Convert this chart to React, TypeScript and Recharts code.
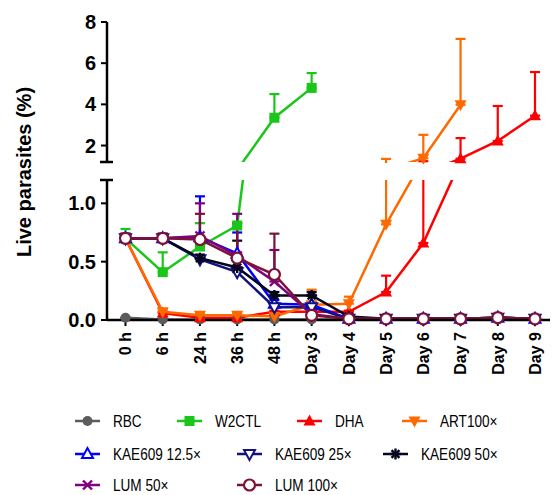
import React from 'react';
import { LineChart, Line, XAxis, YAxis, ErrorBar } from 'recharts';

const categories = ['0 h', '6 h', '24 h', '36 h', '48 h', 'Day 3', 'Day 4', 'Day 5', 'Day 6', 'Day 7', 'Day 8', 'Day 9'];

const rbcValues = [0.02, 0.005, 0.005, 0.005, 0.005, 0.005, 0.005, 0.005, 0.005, 0.005, 0.005, 0.005];
const rbcErrors = [0, 0, 0, 0, 0, 0, 0, 0, 0, 0, 0, 0];

const w2ctlValues = [0.70, 0.41, 0.63, 0.81, 3.35, 4.8, null, null, null, null, null, null];
const w2ctlErrors = [0.08, 0.17, 0.2, 0.02, 1.15, 0.72, null, null, null, null, null, null];

const dhaValues = [0.70, 0.06, 0.02, 0.02, 0.07, 0.07, 0.07, 0.24, 0.66, 1.36, 2.22, 3.45];
const dhaErrors = [0.02, 0.01, 0.01, 0.01, 0.01, 0.02, 0.01, 0.14, 0.58, 1.0, 1.7, 2.12];

const artValues = [0.70, 0.07, 0.04, 0.04, 0.03, 0.13, 0.14, 0.82, 1.38, 3.98, null, null];
const artErrors = [0.02, 0.02, 0.01, 0.02, 0.01, 0.13, 0.06, 0.53, 1.14, 3.2, null, null];

const kae125Values = [0.70, 0.70, 0.71, 0.57, 0.14, 0.13, 0.01, 0.01, 0.01, 0.01, 0.02, 0.01];
const kae125Errors = [0.04, 0.04, 0.35, 0.18, 0.03, 0.02, 0.01, 0.01, 0.01, 0.01, 0.01, 0.01];

const kae25Values = [0.70, 0.70, 0.52, 0.41, 0.11, 0.11, 0.01, 0.01, 0.01, 0.01, 0.02, 0.01];
const kae25Errors = [0.03, 0.03, 0.02, 0.02, 0.02, 0.02, 0.01, 0.01, 0.01, 0.01, 0.01, 0.01];

const kae50Values = [0.70, 0.70, 0.53, 0.45, 0.21, 0.21, 0.03, 0.01, 0.01, 0.01, 0.02, 0.01];
const kae50Errors = [0.03, 0.03, 0.03, 0.23, 0.03, 0.03, 0.01, 0.01, 0.01, 0.01, 0.01, 0.01];

const lum50Values = [0.70, 0.70, 0.72, 0.55, 0.33, 0.05, 0.01, 0.01, 0.01, 0.01, 0.02, 0.01];
const lum50Errors = [0.03, 0.03, 0.28, 0.36, 0.27, 0.01, 0.01, 0.01, 0.01, 0.01, 0.01, 0.01];

const lum100Values = [0.70, 0.70, 0.69, 0.53, 0.39, 0.04, 0.01, 0.01, 0.01, 0.01, 0.02, 0.01];
const lum100Errors = [0.04, 0.04, 0.22, 0.30, 0.35, 0.01, 0.01, 0.01, 0.01, 0.01, 0.01, 0.01];

const upperTicks = [2, 4, 6, 8];
const lowerTicks = [0, 0.5, 1.0];
const upperDomain: [number, number] = [1.2, 8];
const lowerDomain: [number, number] = [0, 1.2];

type Shape = 'circle' | 'square' | 'triUp' | 'triDown' | 'triUpOpen' | 'triDownOpen' | 'star' | 'cross' | 'circleOpen';

interface Series {
  key: string;
  name: string;
  color: string;
  shape: Shape;
  values: (number | null)[];
  errors: (number | null)[];
}

const seriesList: Series[] = [
  { key: 'rbc', name: 'RBC', color: '#5c5c5c', shape: 'circle', values: rbcValues, errors: rbcErrors },
  { key: 'w2ctl', name: 'W2CTL', color: '#19c619', shape: 'square', values: w2ctlValues, errors: w2ctlErrors },
  { key: 'dha', name: 'DHA', color: '#ff0000', shape: 'triUp', values: dhaValues, errors: dhaErrors },
  { key: 'art', name: 'ART100×', color: '#ff6a00', shape: 'triDown', values: artValues, errors: artErrors },
  { key: 'kae125', name: 'KAE609 12.5×', color: '#0000ff', shape: 'triUpOpen', values: kae125Values, errors: kae125Errors },
  { key: 'kae25', name: 'KAE609 25×', color: '#12127f', shape: 'triDownOpen', values: kae25Values, errors: kae25Errors },
  { key: 'kae50', name: 'KAE609 50×', color: '#05051e', shape: 'star', values: kae50Values, errors: kae50Errors },
  { key: 'lum50', name: 'LUM 50×', color: '#800080', shape: 'cross', values: lum50Values, errors: lum50Errors },
  { key: 'lum100', name: 'LUM 100×', color: '#7d1236', shape: 'circleOpen', values: lum100Values, errors: lum100Errors },
];

function buildData(min: number, max: number) {
  return categories.map((cat, i) => {
    const row: any = { cat };
    seriesList.forEach((s) => {
      const v = s.values[i];
      const e = s.errors[i];
      row[s.key] = v;
      row[s.key + 'Err'] = v == null ? null : [0, e ?? 0];
      row[s.key + 'Pt'] = v != null && v >= min && v <= max ? v : null;
    });
    return row;
  });
}

const upperData = buildData(upperDomain[0], upperDomain[1]);
const lowerData = buildData(lowerDomain[0], lowerDomain[1]);

function Marker({ cx, cy, shape, color }: { cx: number; cy: number; shape: Shape; color: string }) {
  const r = 5.5;
  switch (shape) {
    case 'circle':
      return <circle cx={cx} cy={cy} r={5} fill={color} />;
    case 'square':
      return <rect x={cx - 5} y={cy - 5} width={10} height={10} fill={color} />;
    case 'triUp':
      return <polygon points={`${cx},${cy - 6.5} ${cx - 6},${cy + 4.5} ${cx + 6},${cy + 4.5}`} fill={color} />;
    case 'triDown':
      return <polygon points={`${cx},${cy + 6.5} ${cx - 6},${cy - 4.5} ${cx + 6},${cy - 4.5}`} fill={color} />;
    case 'triUpOpen':
      return <polygon points={`${cx},${cy - 6} ${cx - 5.5},${cy + 4} ${cx + 5.5},${cy + 4}`} fill="#fff" stroke={color} strokeWidth={2} />;
    case 'triDownOpen':
      return <polygon points={`${cx},${cy + 6} ${cx - 5.5},${cy - 4} ${cx + 5.5},${cy - 4}`} fill="#fff" stroke={color} strokeWidth={2} />;
    case 'star': {
      const d = r * 0.72;
      return (
        <g stroke={color} strokeWidth={2.4}>
          <line x1={cx} y1={cy - r} x2={cx} y2={cy + r} />
          <line x1={cx - r} y1={cy} x2={cx + r} y2={cy} />
          <line x1={cx - d} y1={cy - d} x2={cx + d} y2={cy + d} />
          <line x1={cx - d} y1={cy + d} x2={cx + d} y2={cy - d} />
        </g>
      );
    }
    case 'cross': {
      const d = 4.5;
      return (
        <g stroke={color} strokeWidth={2.4}>
          <line x1={cx - d} y1={cy - d} x2={cx + d} y2={cy + d} />
          <line x1={cx - d} y1={cy + d} x2={cx + d} y2={cy - d} />
        </g>
      );
    }
    case 'circleOpen':
      return <circle cx={cx} cy={cy} r={5.5} fill="#fff" stroke={color} strokeWidth={2.2} />;
  }
  return null;
}

const makeDot = (s: Series) => (props: any) => {
  const { cx, cy, index, value } = props;
  if (cx == null || cy == null || value == null || Number.isNaN(cy)) return <g key={`${s.key}-${index}`} />;
  return (
    <g key={`${s.key}-${index}`}>
      <Marker cx={cx} cy={cy} shape={s.shape} color={s.color} />
    </g>
  );
};

const FONT = "'Liberation Sans', Arial, Helvetica, sans-serif";

const XTick = (props: any) => {
  const { x, y, payload } = props;
  return (
    <g transform={`translate(${x},${y})`}>
      <text transform="rotate(-90)" x={0} y={0} dy="0.36em" textAnchor="end" fontFamily={FONT} fontWeight="bold" fontSize={16} fill="#000">
        {payload.value}
      </text>
    </g>
  );
};

const yTickStyle = { fontFamily: FONT, fontWeight: 'bold' as const, fontSize: 20, fill: '#000' };

function seriesLine(s: Series) {
  return (
    <Line
      key={s.key + '-line'}
      yAxisId="clip"
      dataKey={s.key}
      stroke={s.color}
      strokeWidth={2.5}
      dot={false}
      activeDot={false}
      isAnimationActive={false}
      connectNulls={false}
    >
      <ErrorBar dataKey={s.key + 'Err'} width={5} strokeWidth={2.2} stroke={s.color} direction="y" />
    </Line>
  );
}

function seriesPoints(s: Series) {
  return (
    <Line
      key={s.key + '-pts'}
      yAxisId="pts"
      dataKey={s.key + 'Pt'}
      stroke="none"
      dot={makeDot(s)}
      activeDot={false}
      isAnimationActive={false}
      legendType="none"
    />
  );
}

function renderSeries(withLines: boolean, withPoints: boolean) {
  const out: React.ReactNode[] = [];
  seriesList.forEach((s) => {
    if (withLines) out.push(seriesLine(s));
    if (withPoints) out.push(seriesPoints(s));
  });
  return out;
}

const xPadding = { left: 18.5, right: 15 };

const legendPos: [number, number][] = [
  [75, 421], [177, 421], [297, 421], [402, 421],
  [75, 454], [237, 454], [383, 454],
  [75, 485], [237, 485],
];

const upperMargin = { top: 22, right: 3, bottom: 18, left: 0 };

export default function App() {
  return (
    <div style={{ position: 'absolute', left: 0, top: 0, width: 553, height: 495, background: '#fff', overflow: 'hidden' }}>
      {/* upper panel lines + error bars, clipped at the axis break */}
      <div style={{ position: 'absolute', left: 0, top: 0, width: 553, height: 162.5, overflow: 'hidden' }}>
        <LineChart width={553} height={180} data={upperData} margin={upperMargin}>
          <XAxis dataKey="cat" scale="point" padding={xPadding} hide />
          <YAxis
            yAxisId="clip"
            type="number"
            domain={upperDomain}
            ticks={upperTicks}
            allowDataOverflow
            width={107}
            axisLine={{ stroke: '#000', strokeWidth: 2.5 }}
            tickLine={{ stroke: '#000', strokeWidth: 2 }}
            tickSize={6}
            tickMargin={5}
            tick={yTickStyle}
            interval={0}
          />
          <YAxis yAxisId="pts" type="number" domain={upperDomain} hide />
          {renderSeries(true, false)}
        </LineChart>
      </div>
      {/* upper panel markers (only in-range points), not clipped */}
      <div style={{ position: 'absolute', left: 0, top: 0 }}>
        <LineChart width={553} height={180} data={upperData} margin={upperMargin}>
          <XAxis dataKey="cat" scale="point" padding={xPadding} hide />
          <YAxis
            yAxisId="pts"
            type="number"
            domain={upperDomain}
            width={107}
            axisLine={false}
            tickLine={false}
            tick={false}
          />
          {renderSeries(false, true)}
        </LineChart>
      </div>
      {/* lower panel, clipped at the axis break */}
      <div style={{ position: 'absolute', left: 0, top: 180, width: 553, height: 220, overflow: 'hidden' }}>
        <div style={{ position: 'absolute', left: 0, top: -180 }}>
          <LineChart width={553} height={400} data={lowerData} margin={{ top: 180, right: 3, bottom: 20, left: 0 }}>
            <XAxis
              dataKey="cat"
              scale="point"
              padding={xPadding}
              height={60}
              interval={0}
              axisLine={{ stroke: '#000', strokeWidth: 2.5 }}
              tickLine={{ stroke: '#000', strokeWidth: 2 }}
              tickSize={6}
              tickMargin={6}
              tick={<XTick />}
            />
            <YAxis
              yAxisId="clip"
              type="number"
              domain={lowerDomain}
              ticks={lowerTicks}
              allowDataOverflow
              width={107}
              axisLine={{ stroke: '#000', strokeWidth: 2.5 }}
              tickLine={{ stroke: '#000', strokeWidth: 2 }}
              tickSize={6}
              tickMargin={5}
              tick={yTickStyle}
              tickFormatter={(v: number) => v.toFixed(1)}
              interval={0}
            />
            <YAxis yAxisId="pts" type="number" domain={lowerDomain} hide />
            {renderSeries(true, true)}
          </LineChart>
        </div>
      </div>
      <svg width={553} height={495} style={{ position: 'absolute', left: 0, top: 0, pointerEvents: 'none' }}>
        <line x1={100} y1={162} x2={113} y2={162} stroke="#000" strokeWidth={2.5} />
        <line x1={100} y1={180} x2={113} y2={180} stroke="#000" strokeWidth={2.5} />
        <text
          transform="translate(31,172) rotate(-90)"
          textAnchor="middle"
          fontFamily={FONT}
          fontWeight="bold"
          fontSize={20}
          fill="#000"
        >
          Live parasites (%)
        </text>
        {seriesList.map((s, i) => {
          const [lx, ly] = legendPos[i];
          return (
            <g key={s.key}>
              <line x1={lx} y1={ly} x2={lx + 25} y2={ly} stroke={s.color} strokeWidth={2.5} />
              <Marker cx={lx + 12.5} cy={ly} shape={s.shape} color={s.color} />
              <text
                transform={`translate(${lx + 38},${ly}) scale(0.8,1)`}
                dy="0.35em"
                fontFamily={FONT}
                fontSize={17}
                fill="#000"
              >
                {s.name}
              </text>
            </g>
          );
        })}
      </svg>
    </div>
  );
}
